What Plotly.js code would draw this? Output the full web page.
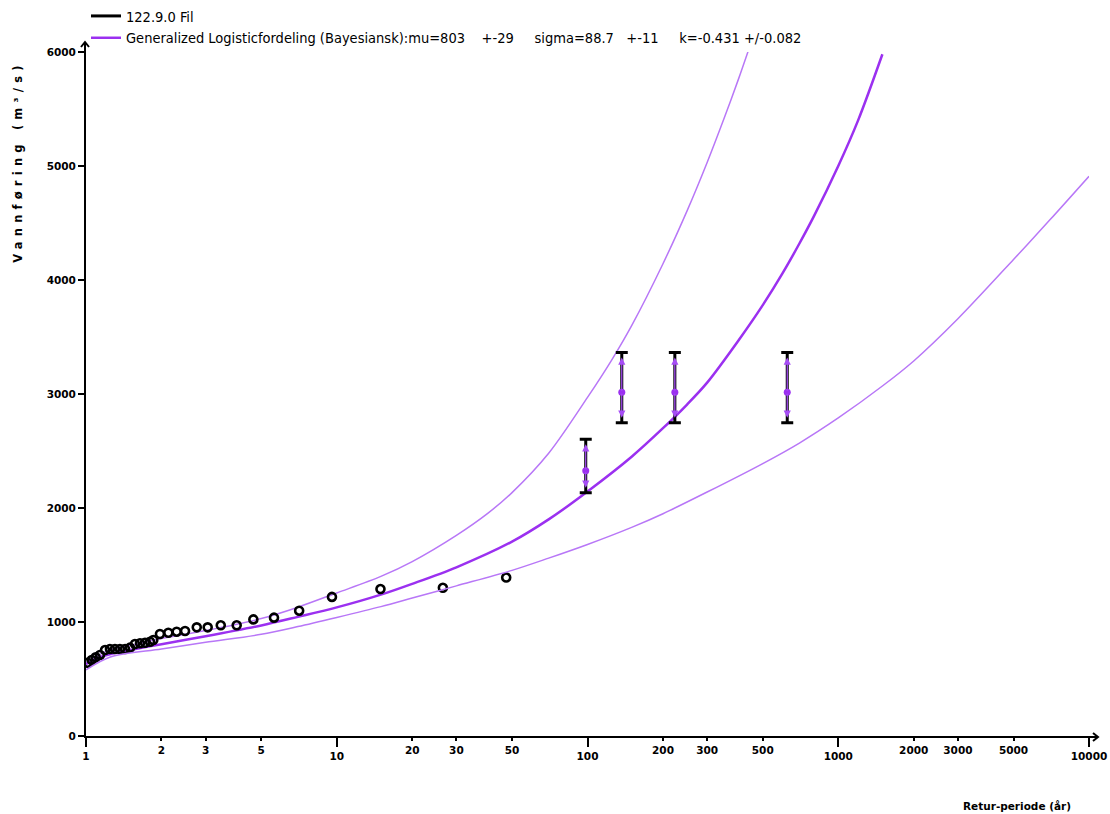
<!DOCTYPE html>
<html><head><meta charset="utf-8">
<script src="https://cdn.plot.ly/plotly-3.0.1.min.js"></script>
<style>html,body{margin:0;padding:0;background:#fff}#chart{width:1110px;height:814px}</style>
</head><body><div id="chart"></div>
<script>
// Observed annual floods (return period, discharge)
const obsT = [1.016, 1.054, 1.093, 1.137, 1.191, 1.246, 1.305, 1.366, 1.431, 1.498, 1.568, 1.642, 1.719, 1.800, 1.855, 1.972, 2.130, 2.299, 2.483, 2.765, 3.057, 3.447, 3.99, 4.65, 5.62, 7.08, 9.57, 14.94, 26.5, 47.4];
const obsQ = [643, 667, 690, 711, 754, 763, 763, 763, 763, 775, 807, 813, 818, 827, 842, 895, 906, 915, 921, 953, 953, 971, 971, 1023, 1038, 1099, 1220, 1289, 1300, 1390];

// Historical floods with uncertainty interval
const histT = [98.4, 137, 223, 626];
const histQ = [2327, 3015, 3015, 3015];
const histLow = [2134, 2748, 2748, 2748];
const histHigh = [2603, 3363, 3363, 3363];

// Fitted curve and credibility bounds
const centerT = [1, 1.1, 1.2, 1.3, 1.5, 2, 3, 5, 7, 10, 15, 20, 30, 50, 70, 100, 150, 200, 250, 300, 400, 500, 600, 700, 800, 1000, 1200, 1500];
const centerQ = [630, 678, 708, 728, 755, 805, 875, 970, 1045, 1128, 1240, 1335, 1480, 1705, 1900, 2145, 2450, 2700, 2910, 3100, 3470, 3780, 4060, 4320, 4560, 5000, 5400, 5980];
const upperT = [1, 1.1, 1.2, 1.3, 1.5, 2, 3, 5, 7, 10, 15, 20, 30, 40, 50, 70, 100, 125, 150, 200, 250, 300, 350, 400, 450];
const upperQ = [645, 700, 742, 768, 795, 855, 925, 1030, 1130, 1255, 1400, 1530, 1760, 1953, 2135, 2480, 2970, 3300, 3600, 4143, 4611, 5031, 5414, 5762, 6088];
const lowerT = [1, 1.25, 2, 3, 5, 7, 10, 15, 20, 30, 50, 70, 100, 150, 200, 300, 500, 700, 1000, 1500, 2000, 3000, 5000, 7000, 10000];
const lowerQ = [580, 693, 763, 822, 892, 960, 1040, 1135, 1210, 1317, 1453, 1560, 1680, 1830, 1950, 2140, 2390, 2570, 2790, 3070, 3290, 3660, 4180, 4530, 4910];

// Ticks and texts
const majorTicks = [1, 10, 100, 1000, 10000];
const minorTicks = [2, 3, 5, 20, 30, 50, 200, 300, 500, 2000, 3000, 5000];
const yTicks = [0, 1000, 2000, 3000, 4000, 5000, 6000];
const legendData = '122.9.0 Fil';
const NB = '\u00a0';
const legendFit = 'Generalized Logisticfordeling (Bayesiansk):mu=803' + NB.repeat(4) + '+-29' + NB.repeat(5) + 'sigma=88.7' + NB.repeat(3) + '+-11' + NB.repeat(5) + 'k=-0.431 +/-0.082';
const yTitle = 'Vannføring (m³/s)';
const xTitle = 'Retur-periode (år)';

const purple = '#9b30f0';
const lightPurple = '#b877f7';
const tickFont = {family: 'DejaVu Sans, sans-serif', size: 10.5, color: '#000', weight: 'bold'};
const yTitleFont = {family: 'DejaVu Sans, sans-serif', size: 11.5, color: '#000', weight: 'bold'};

const traces = [
  {x: [null], y: [null], mode: 'lines', name: legendData, line: {color: '#000', width: 3}, hoverinfo: 'skip'},
  {x: lowerT, y: lowerQ, xaxis: 'x2', mode: 'lines', line: {color: lightPurple, width: 1.5, shape: 'spline', smoothing: 0.9}, showlegend: false},
  {x: upperT, y: upperQ, mode: 'lines', line: {color: lightPurple, width: 1.5, shape: 'spline', smoothing: 0.9}, showlegend: false},
  {x: centerT, y: centerQ, mode: 'lines', name: legendFit, line: {color: purple, width: 2.5, shape: 'spline', smoothing: 0.9}},
  {x: obsT, y: obsQ, mode: 'markers', showlegend: false,
   marker: {symbol: 'circle-open', size: 8, color: '#000', line: {color: '#000', width: 2.6}}},
  {x: histT, y: histQ, mode: 'markers', showlegend: false,
   marker: {symbol: 'circle', size: 7, color: purple},
   error_y: {type: 'data', symmetric: false,
     array: histHigh.map((h, i) => h - histQ[i]),
     arrayminus: histQ.map((c, i) => c - histLow[i]),
     color: '#000', thickness: 3, width: 6}}
];

const annotations = [
  {text: yTitle, xref: 'paper', yref: 'paper', x: -0.0678, y: 0.840, textangle: -90,
   showarrow: false, font: yTitleFont, xanchor: 'center', yanchor: 'middle'},
  {text: xTitle, xref: 'paper', yref: 'paper', x: 0.928, y: -0.102,
   showarrow: false, font: tickFont, xanchor: 'center', yanchor: 'middle'}
];
histT.forEach((t, i) => {
  [histHigh[i], histLow[i]].forEach(tip => {
    annotations.push({x: Math.log10(t), y: tip, xref: 'x', yref: 'y',
      ax: Math.log10(t), ay: histQ[i], axref: 'x', ayref: 'y', text: '',
      showarrow: true, arrowhead: 2, arrowsize: 1.1, arrowwidth: 1.3, arrowcolor: '#a64df5', standoff: 5});
  });
});

const layout = {
  width: 1110, height: 814,
  margin: {l: 86, r: 21, t: 52, b: 78, pad: 0, autoexpand: false},
  paper_bgcolor: '#fff', plot_bgcolor: '#fff',
  showlegend: true,
  legend: {x: 0, xanchor: 'left', xref: 'paper', y: 1.005, yref: 'container', yanchor: 'top',
    font: {family: 'Liberation Sans Narrow, DejaVu Sans Condensed, Liberation Sans, sans-serif', size: 14.5, color: '#000'},
    bgcolor: 'rgba(0,0,0,0)', tracegroupgap: 0, itemwidth: 30},
  xaxis: {type: 'log', range: [0, 4], tickvals: majorTicks, ticktext: majorTicks.map(String),
    ticks: 'outside', ticklen: 9, tickwidth: 2, tickcolor: '#000',
    showline: true, linewidth: 2, linecolor: '#000', showgrid: false, zeroline: false, tickfont: tickFont},
  xaxis2: {type: 'log', range: [0, 4], overlaying: 'x', anchor: 'y', side: 'bottom',
    tickvals: minorTicks, ticktext: minorTicks.map(String),
    ticks: 'outside', ticklen: 4, tickwidth: 2, tickcolor: '#000',
    showline: false, showgrid: false, zeroline: false, tickfont: tickFont},
  yaxis: {range: [0, 6000], tickvals: yTicks, ticktext: yTicks.map(String),
    ticks: 'outside', ticklen: 6, tickwidth: 2, tickcolor: '#000',
    showline: true, linewidth: 2, linecolor: '#000', showgrid: false, zeroline: false, tickfont: tickFont},
  shapes: [
    {type: 'path', xref: 'paper', yref: 'paper', xsizemode: 'pixel', ysizemode: 'pixel',
     xanchor: 0, yanchor: 1, path: 'M-1,0 L-1,10 M-5,5 L-1,10 L3,5', line: {color: '#000', width: 2}},
    {type: 'path', xref: 'paper', yref: 'paper', xsizemode: 'pixel', ysizemode: 'pixel',
     xanchor: 1, yanchor: 0, path: 'M0,-1 L9,-1 M4,3 L9,-1 L4,-5', line: {color: '#000', width: 2}}
  ],
  annotations: annotations
};

Plotly.newPlot('chart', traces, layout, {displayModeBar: false, staticPlot: true}).then(() => {
  document.querySelectorAll('.annotation-text').forEach(el => {
    if (el.textContent === yTitle) el.style.letterSpacing = '5.2px';
  });
});
</script></body></html>
